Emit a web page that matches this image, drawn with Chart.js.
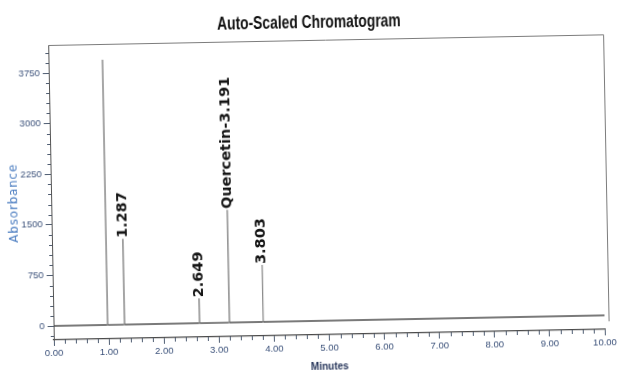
<!DOCTYPE html>
<html>
<head>
<meta charset="utf-8">
<script src="https://cdn.jsdelivr.net/npm/chart.js@4/dist/chart.umd.min.js"></script>
<style>
  html, body { margin: 0; padding: 0; background: #fff; overflow: hidden; }
  #wrap { width: 620px; height: 378px; position: relative; overflow: hidden; background: #fff; }
  /* the printed report sits slightly askew */
  #c { display: block; transform: rotate(-1.1deg); transform-origin: 50% 50%; }
</style>
</head>
<body>
<div id="wrap"><canvas id="c" width="620" height="378"></canvas></div>
<script>
// Integrated peaks: retention time (min) and apex absorbance
const peakTimes   = [0.98, 1.287, 2.649, 3.191, 3.803];
const peakHeights = [3930, 1270, 366, 1670, 845];
const peakLabels  = ['', '1.287', '2.649', 'Quercetin-3.191', '3.803'];

// Axis ranges and tick marks
const runStart = 0;
const runEnd = 10;
const absMin = -207;
const absMax = 4165;
const absTicks = [0, 750, 1500, 2250, 3000, 3750];
const absMinorStep = 150;
const timeMajorStep = 1;
const timeMinorStep = 0.2;

const chartTitle = 'Auto-Scaled Chromatogram';
const xTitle = 'Minutes';
const yTitle = 'Absorbance';

const SANS = '"Liberation Sans", Arial, sans-serif';
const TICK_COLOR = '#3a5079';

// Detector trace: flat baseline with a narrow spike at each retention time
const spikeHalfWidth = 0.004;
const trace = [{ x: runStart, y: 0 }];
peakTimes.forEach((t, i) => {
  trace.push({ x: t - spikeHalfWidth, y: 0 }, { x: t, y: peakHeights[i] }, { x: t + spikeHalfWidth, y: 0 });
});
trace.push({ x: runEnd, y: 0 });

// Title, plot frame, minor ticks, y title and peak annotations
const decorations = {
  id: 'decorations',
  afterDraw(chart) {
    const { ctx, chartArea: a, scales: { x, y } } = chart;
    ctx.save();

    // condensed heading above the plot
    ctx.save();
    ctx.fillStyle = '#111';
    ctx.font = 'bold 17.5px ' + SANS;
    ctx.textAlign = 'center';
    ctx.textBaseline = 'middle';
    ctx.translate(312, 23);
    ctx.scale(0.79, 1);
    ctx.fillText(chartTitle, 0, 0);
    ctx.restore();

    // top and right frame edges
    ctx.strokeStyle = '#7c7c7c';
    ctx.lineWidth = 1;
    ctx.beginPath();
    ctx.moveTo(a.left, a.top + 0.5);
    ctx.lineTo(a.right + 4.5, a.top + 0.5);
    ctx.lineTo(a.right + 4.5, y.getPixelForValue(0) + 6);
    ctx.stroke();

    // minor ticks
    ctx.strokeStyle = '#4f5d72';
    ctx.beginPath();
    for (let i = -1; i * absMinorStep <= absMax; i++) {
      const v = i * absMinorStep;
      if (absTicks.includes(v) || v < absMin) continue;
      const py = Math.round(y.getPixelForValue(v)) + 0.5;
      ctx.moveTo(a.left - 3, py);
      ctx.lineTo(a.left, py);
    }
    const nMinor = Math.round((runEnd - runStart) / timeMinorStep);
    const perMajor = Math.round(timeMajorStep / timeMinorStep);
    for (let i = 0; i <= nMinor; i++) {
      if (i % perMajor === 0) continue;
      const px = Math.round(x.getPixelForValue(runStart + i * timeMinorStep)) + 0.5;
      ctx.moveTo(px, a.bottom);
      ctx.lineTo(px, a.bottom + 4);
    }
    ctx.stroke();

    // y axis title
    ctx.fillStyle = '#4a7cc0';
    ctx.font = '12px "DejaVu Sans", sans-serif';
    ctx.letterSpacing = '0.8px';
    ctx.textAlign = 'center';
    ctx.textBaseline = 'middle';
    ctx.translate(14, (a.top + a.bottom) / 2 + 10);
    ctx.rotate(-Math.PI / 2);
    ctx.fillText(yTitle, 0, 0);
    ctx.restore();

    // peak labels, written upward from each apex
    ctx.save();
    ctx.fillStyle = '#151515';
    ctx.font = 'bold 14.5px "DejaVu Sans", sans-serif';
    ctx.textAlign = 'left';
    ctx.textBaseline = 'middle';
    peakTimes.forEach((t, i) => {
      if (!peakLabels[i]) return;
      const px = x.getPixelForValue(t);
      const py = y.getPixelForValue(peakHeights[i]) - 1;
      ctx.save();
      ctx.translate(px, py);
      ctx.rotate(-Math.PI / 2);
      ctx.fillText(peakLabels[i], 0, 0);
      ctx.restore();
    });
    ctx.restore();
  }
};

new Chart(document.getElementById('c'), {
  type: 'line',
  data: {
    datasets: [{
      data: trace,
      borderColor: '#8a8a8a',
      borderWidth: 1,
      pointRadius: 0,
      tension: 0,
      fill: false,
      segment: {
        borderColor: s => (s.p0.parsed.y === 0 && s.p1.parsed.y === 0) ? '#4e4e4e' : '#8a8a8a',
        borderWidth: s => (s.p0.parsed.y === 0 && s.p1.parsed.y === 0) ? 1.4 : 1
      }
    }]
  },
  options: {
    responsive: false,
    animation: false,
    events: [],
    layout: { padding: { left: 0, right: 18, top: 40, bottom: 0 } },
    plugins: {
      legend: { display: false },
      tooltip: { enabled: false },
      title: { display: false }
    },
    scales: {
      x: {
        type: 'linear',
        min: runStart,
        max: runEnd,
        afterFit(scale) { scale.height = 43; },
        grid: { drawOnChartArea: false, drawTicks: true, tickLength: 6, tickColor: '#4f5d72' },
        border: { display: true, color: '#4a4a4a', width: 1.2 },
        ticks: {
          stepSize: timeMajorStep,
          maxRotation: 0,
          autoSkip: false,
          padding: 2,
          color: TICK_COLOR,
          font: { family: SANS, size: 9.5 },
          callback: v => Number(v).toFixed(2)
        },
        title: {
          display: true,
          text: xTitle,
          color: '#26355a',
          font: { family: SANS, size: 10, weight: 'bold', lineHeight: 1.2 },
          padding: { top: 0, bottom: 5 }
        }
      },
      y: {
        type: 'linear',
        min: absMin,
        max: absMax,
        afterFit(scale) { scale.width = 51; },
        afterBuildTicks(scale) { scale.ticks = absTicks.map(v => ({ value: v })); },
        grid: { drawOnChartArea: false, drawTicks: true, tickLength: 6, tickColor: '#4f5d72' },
        border: { display: true, color: '#555', width: 1 },
        ticks: {
          padding: 3,
          color: TICK_COLOR,
          font: { family: SANS, size: 9.5 },
          callback: v => String(v)
        }
      }
    }
  },
  plugins: [decorations]
});
</script>
</body>
</html>
